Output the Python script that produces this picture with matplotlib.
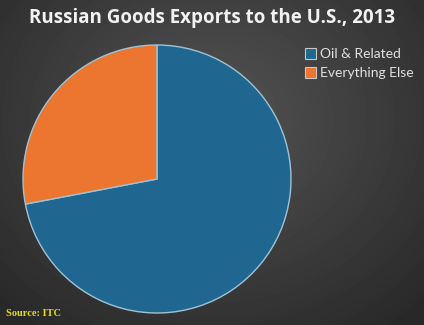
import numpy as np
import matplotlib
matplotlib.use("Agg")
import matplotlib.pyplot as plt
from matplotlib.patches import Patch

labels = ["Oil & Related", "Everything Else"]
shares = [72, 28]
colors = ["#1f6790", "#ec7530"]

fig = plt.figure(figsize=(4.24, 3.25), dpi=100)

# dark radial background
bg = fig.add_axes([0, 0, 1, 1])
yy, xx = np.mgrid[0:325, 0:424]
d = np.sqrt(((xx - 212) / 300.0) ** 2 + ((yy - 120) / 260.0) ** 2)
shade = 0.33 - 0.17 * np.clip(d, 0, 1)
bg.imshow(shade, cmap="gray", vmin=0, vmax=1, aspect="auto", extent=[0, 1, 0, 1])
bg.axis("off")

ax = fig.add_axes([(157 - 134) / 424, 1 - (179 + 134) / 325, 268 / 424, 268 / 325])
ax.pie(shares, colors=colors, startangle=90, counterclock=False,
       wedgeprops=dict(edgecolor="#9fc3d6", linewidth=1.0))
ax.set_xlim(-1, 1)
ax.set_ylim(-1, 1)
ax.set_aspect("equal")

fig.text(0.5, 0.945, "Russian Goods Exports to the U.S., 2013", ha="center", va="center",
         color="#f2f2f2", fontsize=13.5, fontweight="bold", family="Open Sans")

handles = [Patch(facecolor=c, edgecolor="#c8c8c8", linewidth=0.8) for c in colors]
leg = fig.legend(handles, labels, loc="upper left", bbox_to_anchor=(0.69, 0.89),
                 frameon=False, handlelength=0.8, handleheight=0.8,
                 handletextpad=0.3, labelspacing=0.5, labelcolor="#e0e0e0",
                 prop=dict(family="Lato", size=10))

fig.text(0.015, 0.028, "Source: ITC", color="#e6dc10", fontsize=7.5,
         fontweight="bold", family="Liberation Serif")

fig.savefig("out.png", dpi=100)
